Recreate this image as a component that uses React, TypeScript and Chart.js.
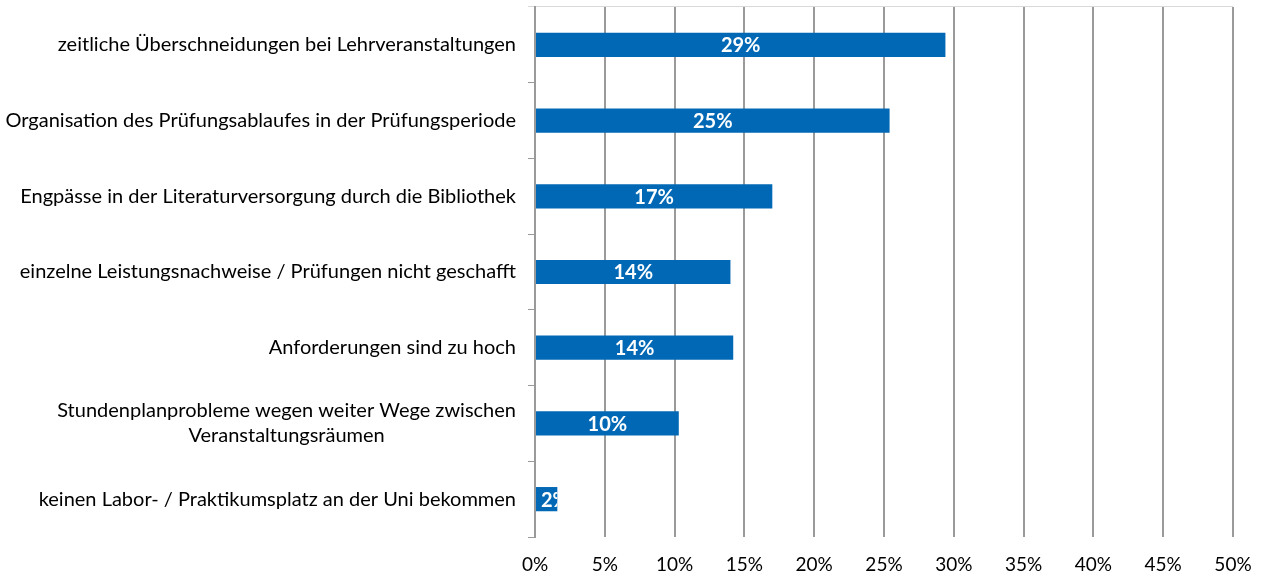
import React, { useEffect, useRef } from "react";
import { Chart, registerables } from "chart.js";

Chart.register(...registerables);

const categories: (string | string[])[] = [
  "zeitliche Überschneidungen bei Lehrveranstaltungen",
  "Organisation des Prüfungsablaufes in der Prüfungsperiode",
  "Engpässe in der Literaturversorgung durch die Bibliothek",
  "einzelne Leistungsnachweise / Prüfungen nicht geschafft",
  "Anforderungen sind zu hoch",
  ["Stundenplanprobleme wegen weiter Wege zwischen", "Veranstaltungsräumen"],
  "keinen Labor- / Praktikumsplatz an der Uni bekommen",
];
const values: number[] = [29.4, 25.4, 17.0, 14.0, 14.2, 10.3, 1.6];
const valueLabels: string[] = ["29%", "25%", "17%", "14%", "14%", "10%", "2%"];

const FONT = "Lato";
const LABEL_SIZE = 20;
const BAR_COLOR = "#0068B5";
const GRID_COLOR = "#9a9a9a";

const labelPlugin = {
  id: "customLabels",
  afterDatasetsDraw(chart: any) {
    const ctx = chart.ctx;
    const meta = chart.getDatasetMeta(0);
    ctx.save();
    ctx.font = `bold ${LABEL_SIZE}px ${FONT}`;
    ctx.fillStyle = "#ffffff";
    ctx.textBaseline = "middle";
    ctx.textAlign = "center";
    meta.data.forEach((bar: any, i: number) => {
      const txt = valueLabels[i];
      const w = ctx.measureText(txt).width;
      const left = Math.min(bar.base, bar.x);
      let cx = (bar.base + bar.x) / 2;
      cx = Math.max(cx, left + 5 + w / 2);
      ctx.save();
      ctx.beginPath();
      ctx.rect(left, bar.y - bar.height / 2, Math.abs(bar.x - bar.base), bar.height);
      ctx.clip();
      ctx.fillText(txt, cx, bar.y + 1);
      ctx.restore();
    });
    ctx.restore();

    // category labels
    const y = chart.scales.y;
    ctx.save();
    ctx.font = `${LABEL_SIZE}px ${FONT}`;
    ctx.fillStyle = "#000000";
    ctx.textBaseline = "middle";
    const right = y.right - 7 - 12;
    const lineH = 25;
    categories.forEach((lab, i) => {
      const py = y.getPixelForTick(i);
      const lines = Array.isArray(lab) ? lab : [lab];
      const maxW = Math.max(...lines.map((l) => ctx.measureText(l).width));
      const startY = py - ((lines.length - 1) * lineH) / 2;
      lines.forEach((l, j) => {
        if (lines.length > 1) {
          ctx.textAlign = "center";
          ctx.fillText(l, right - maxW / 2, startY + j * lineH);
        } else {
          ctx.textAlign = "right";
          ctx.fillText(l, right, startY + j * lineH);
        }
      });
    });
    ctx.restore();
  },
};

export default function App() {
  const ref = useRef<HTMLCanvasElement | null>(null);
  useEffect(() => {
    if (!ref.current) return;
    const chart = new Chart(ref.current, {
      type: "bar",
      data: {
        labels: categories as any,
        datasets: [
          {
            data: values,
            backgroundColor: BAR_COLOR,
            borderWidth: 0,
            categoryPercentage: 1,
            barPercentage: 0.32,
          },
        ],
      },
      options: {
        indexAxis: "y",
        animation: false,
        responsive: false,
        maintainAspectRatio: false,
        layout: { padding: { top: 7, right: 36, left: 0, bottom: 0 } },
        plugins: {
          legend: { display: false },
          tooltip: { enabled: false },
        },
        scales: {
          x: {
            min: 0,
            max: 50,
            ticks: {
              stepSize: 5,
              callback: (v: any) => v + "%",
              color: "#000000",
              font: { family: FONT, size: 19 },
              padding: 16,
              maxRotation: 0,
            },
            grid: {
              color: GRID_COLOR,
              lineWidth: 2,
              drawTicks: false,
            },
            border: { display: false },
            afterFit: (s: any) => {
              s.height = 40;
            },
          },
          y: {
            ticks: {
              display: false,
            },
            grid: {
              offset: true,
              drawOnChartArea: true,
              drawTicks: true,
              tickLength: 7,
              lineWidth: 1,
              color: (c: any) => (c.index === 0 ? "#d9d9d9" : "rgba(0,0,0,0)"),
              tickColor: (c: any) => (c.index === 0 ? "#d9d9d9" : GRID_COLOR),
            },
            border: { display: true, color: GRID_COLOR, width: 2 },
            afterFit: (s: any) => {
              s.width = 535;
            },
          },
        },
      },
      plugins: [labelPlugin],
    });
    return () => chart.destroy();
  }, []);
  return (
    <div style={{ position: "fixed", left: 0, top: 0, width: 1269, height: 577 }}>
      <canvas ref={ref} width={1269} height={577} style={{ width: 1269, height: 577 }} />
    </div>
  );
}
